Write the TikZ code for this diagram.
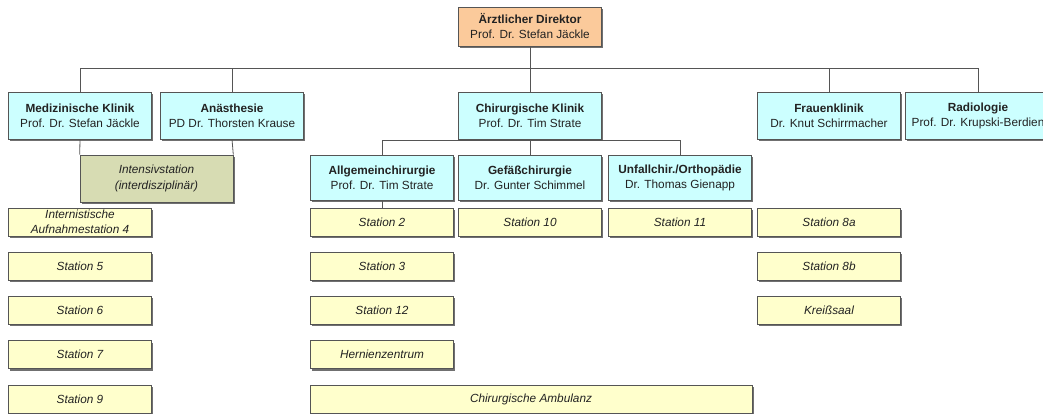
\documentclass[tikz,border=0pt]{standalone}
\usepackage{fontspec}
\setmainfont{Liberation Sans}
\usetikzlibrary{shadows}
\definecolor{headc}{HTML}{FBCA9B}
\definecolor{deptc}{HTML}{CCFFFF}
\definecolor{statc}{HTML}{FFFFCC}
\definecolor{intc}{HTML}{D7DCB3}
\definecolor{linec}{HTML}{555555}
\definecolor{shadowc}{HTML}{707070}
\definecolor{textc}{HTML}{222222}
\begin{document}
\begin{tikzpicture}[x=1pt,y=-1pt,
  box/.style={draw=linec, line width=0.6pt, minimum width=143pt, minimum height=47pt,
    inner sep=1pt, align=center, font=\fontsize{11.8}{15}\selectfont, text=textc,
    drop shadow={shadow xshift=1.8pt, shadow yshift=-1.8pt, opacity=1, fill=shadowc}},
  headbox/.style={box, fill=headc, minimum height=39pt},
  deptbox/.style={box, fill=deptc},
  subbox/.style={box, fill=deptc, minimum height=45pt},
  intbox/.style={box, fill=intc, minimum width=153pt, font=\fontsize{11.8}{16}\selectfont\itshape},
  statbox/.style={box, fill=statc, minimum height=28pt, font=\fontsize{11.8}{14.5}\selectfont\itshape},
  conn/.style={draw=linec, line width=0.8pt}
]
\useasboundingbox (0,0) rectangle (1043,414);

% top
\node[headbox] (dir) at (530,26.5) {\textbf{Ärztlicher Direktor}\\Prof. Dr. Stefan Jäckle};

% departments
\node[deptbox] (med) at (80,115.5) {\textbf{Medizinische Klinik}\\Prof. Dr. Stefan Jäckle};
\node[deptbox] (anae) at (232,115.5) {\textbf{Anästhesie}\\PD Dr. Thorsten Krause};
\node[deptbox] (chir) at (530,115.5) {\textbf{Chirurgische Klinik}\\Prof. Dr. Tim Strate};
\node[deptbox] (frau) at (829,115.5) {\textbf{Frauenklinik}\\Dr. Knut Schirrmacher};
\node[deptbox, minimum width=146pt] (radio) at (978,115.5) {\textbf{Radiologie}\\Prof. Dr. Krupski-Berdien};

% sub departments
\node[intbox] (int) at (156.5,178.5) {Intensivstation\\(interdisziplinär)};
\node[subbox] (allg) at (382,177.5) {\textbf{Allgemeinchirurgie}\\Prof. Dr. Tim Strate};
\node[subbox] (gef) at (530,177.5) {\textbf{Gefäßchirurgie}\\Dr. Gunter Schimmel};
\node[subbox] (unf) at (680,177.5) {\textbf{Unfallchir./Orthopädie}\\Dr. Thomas Gienapp};

% stations left
\node[statbox] (s4) at (80,222) {Internistische\\Aufnahmestation 4};
\node[statbox] (s5) at (80,266.25) {Station 5};
\node[statbox] (s6) at (80,310.5) {Station 6};
\node[statbox] (s7) at (80,354.75) {Station 7};
\node[statbox] (s9) at (80,399) {Station 9};

% stations middle
\node[statbox] (s2) at (382,222) {Station 2};
\node[statbox] (s3) at (382,266.25) {Station 3};
\node[statbox] (s12) at (382,310.5) {Station 12};
\node[statbox] (hz) at (382,354.75) {Hernienzentrum};
\node[statbox, minimum width=442pt] (amb) at (531,399) {Chirurgische Ambulanz};
\node[statbox] (s10) at (530,222) {Station 10};
\node[statbox] (s11) at (680,222) {Station 11};

% stations right
\node[statbox] (s8a) at (829,222) {Station 8a};
\node[statbox] (s8b) at (829,266.25) {Station 8b};
\node[statbox] (ks) at (829,310.5) {Kreißsaal};

% connectors
\coordinate (bus) at (530,68);
\coordinate (cbus) at (530,140);
\draw[conn] (dir.south) -- (bus);
\draw[conn] (med.north) |- (bus);
\draw[conn] (anae.north) |- (bus);
\draw[conn] (chir.north) -- (bus);
\draw[conn] (frau.north) |- (bus);
\draw[conn] (radio.north) |- (bus);
\draw[conn] (med.south) -- (int.north west);
\draw[conn] (anae.south) -- (int.north east);
\draw[conn] (chir.south) -- (gef.north);
\draw[conn] (allg.north) |- (cbus);
\draw[conn] (unf.north) |- (cbus);
\draw[conn] (allg.south) -- (s2.north);
\end{tikzpicture}
\end{document}
